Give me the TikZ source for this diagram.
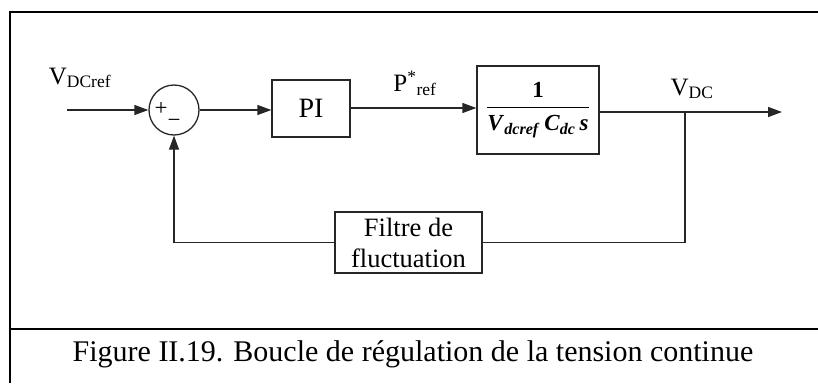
\documentclass[tikz,border=0pt]{standalone}
\usepackage{amsmath}
\usepackage{fontspec}
\setmainfont{Liberation Serif}
\usetikzlibrary{arrows.meta}
\begin{document}
\begin{tikzpicture}[x=1pt,y=-1pt,
  line/.style={line width=1.3pt, draw=black!85},
  arr/.style={line, -{Triangle[length=14pt,width=10pt]}},
  blk/.style={draw=black!85, line width=1.3pt, inner sep=0pt},
  lbl/.style={font=\fontsize{25}{28}\selectfont, inner sep=0pt},
  sgn/.style={font=\fontsize{23}{25}\selectfont, inner sep=0pt},
  frameline/.style={line width=2.4pt, draw=black}]
\useasboundingbox (0,0) rectangle (818,383);
% frame
\draw[frameline] (818,12) -- (10,12) -- (10,383);
\draw[frameline] (10,329) -- (818,329);
% blocks
\node[blk, circle, minimum size=50pt] (sum) at (174,110) {};
\node[sgn] (plus) at (161,109) {+};
\node[sgn] (minus) at (174,123) {−};
\node[blk, minimum width=78pt, minimum height=57pt, font=\fontsize{28}{30}\selectfont] (pi) at (311,108.5) {PI};
\node[blk, minimum width=122pt, minimum height=88pt, font=\fontsize{23}{27}\selectfont] (tf) at (538,110)
  {$\displaystyle\frac{\textbf{1}}{\textbf{\textit{V}}_{\textbf{\textit{dcref}}}\,\textbf{\textit{C}}_{\textbf{\textit{dc}}}\,\textbf{\textit{s}}}$};
\node[blk, minimum width=147pt, minimum height=61pt, align=center, font=\fontsize{26.5}{31}\selectfont] (filt) at (408.5,242.5)
  {Filtre de\\fluctuation};
% coordinates
\coordinate (in) at (67,110);
\coordinate (out) at (782,112);
\coordinate (br) at (685,112);
% connectors
\draw[arr] (in) -- (sum.west);
\draw[arr] (sum.east) -- (sum.east -| pi.west);
\draw[arr] (pi.east |- 0,108) -- (tf.west |- 0,108);
\draw[arr] (tf.east |- out) -- (out);
\draw[line] (br) |- (filt.east);
\draw[arr] (filt.west) -| (sum.south);
% labels
\node[lbl] (lvref) at (80,78) {V\textsubscript{DCref}};
\node[lbl] (lpref) at (415,83) {P\textsuperscript{*}\textsubscript{ref}};
\node[lbl] (lvdc) at (692,89) {V\textsubscript{DC}};
% caption
\node[inner sep=0pt, font=\fontsize{30}{36}\selectfont] (cap) at (413,354)
  {Figure II.19. Boucle de régulation de la tension continue};
\end{tikzpicture}
\end{document}
